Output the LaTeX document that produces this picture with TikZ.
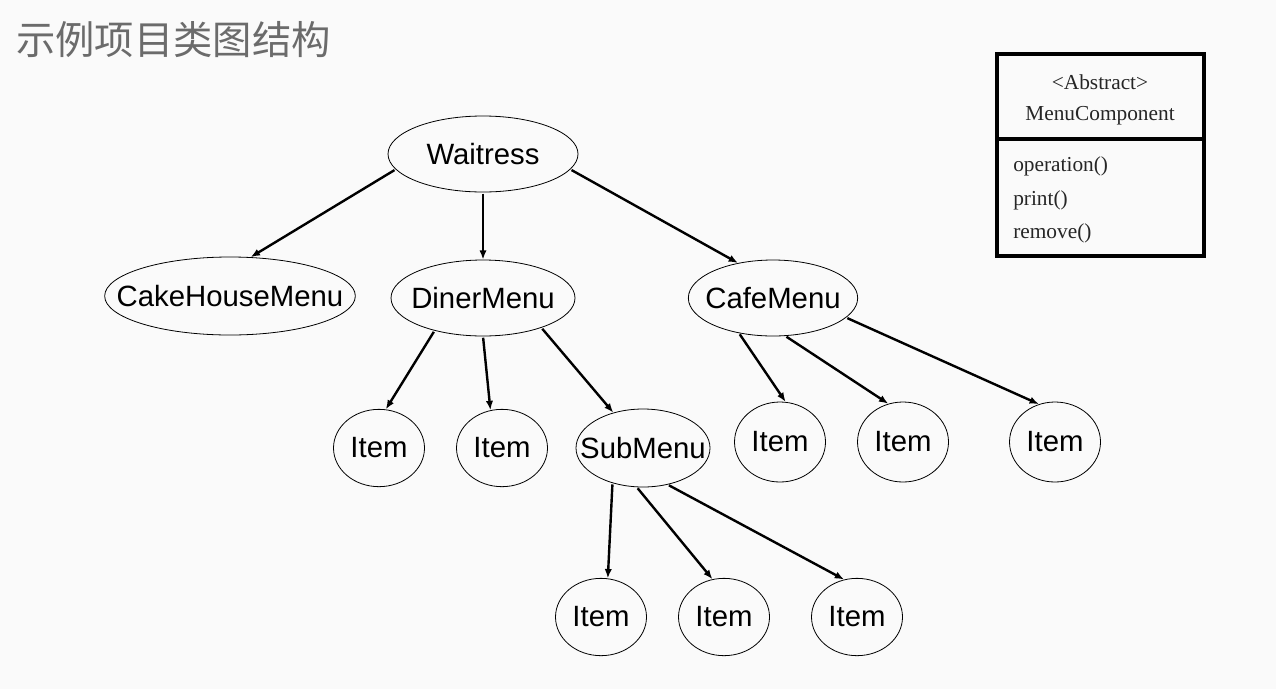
\documentclass[tikz,border=0pt]{standalone}
\usepackage{fontspec}
\setmainfont{Liberation Sans}
\newfontfamily\cjk{Noto Sans CJK SC}
\newfontfamily\tms{Liberation Serif}
\usetikzlibrary{shapes.geometric,arrows.meta}
\newcommand{\zw}[1]{\makebox[0pt][c]{#1}}
\begin{document}
\begin{tikzpicture}[x=0.75pt,y=-0.75pt,
  ell/.style={draw,ellipse,line width=0.6pt,inner sep=0pt,font=\fontsize{22}{26}\selectfont},
  itm/.style={ell,minimum width=68.25pt,minimum height=58pt},
  arr/.style={line width=1.8pt,-{Latex[length=7pt,width=5.5pt]},shorten <=1pt},
  cls/.style={font=\tms\fontsize{16}{19}\selectfont,text=black!85,inner sep=0pt}]
\path[fill=black!2,use as bounding box] (0,0) rectangle (1276,689);
% title
\node[font=\cjk\fontsize{29.5}{34}\selectfont,text=black!58,anchor=west,inner sep=0pt] (title) at (16,40) {示例项目类图结构};
% ellipses
\node[ell,minimum width=142.5pt,minimum height=57pt] (w) at (483,154) {\zw{Waitress}};
\node[ell,minimum width=188pt,minimum height=58.5pt] (chm) at (230,296) {\zw{CakeHouseMenu}};
\node[ell,minimum width=138pt,minimum height=57pt] (dm) at (483,298) {\zw{DinerMenu}};
\node[ell,minimum width=127pt,minimum height=57pt] (cm) at (773,298) {\zw{CafeMenu}};
\node[itm] (i1) at (379,448) {\zw{Item}};
\node[itm] (i2) at (502,448) {\zw{Item}};
\node[ell,minimum width=100.5pt,minimum height=58.5pt] (sm) at (643,448) {\zw{SubMenu}};
\node[itm,minimum height=60pt] (c1) at (780,442) {\zw{Item}};
\node[itm,minimum height=60pt] (c2) at (903,442) {\zw{Item}};
\node[itm,minimum height=60pt] (c3) at (1055,442) {\zw{Item}};
\node[itm] (s1) at (601,617) {\zw{Item}};
\node[itm] (s2) at (724,617) {\zw{Item}};
\node[itm] (s3) at (857,617) {\zw{Item}};
% connectors
\draw[arr] (w.190) -- (chm.62);
\draw[arr] (w.south) -- (dm.north);
\draw[arr] (w.350) -- (cm.135);
\draw[arr] (dm.214) -- (i1.80);
\draw[arr] (dm.south) -- (i2.107);
\draw[arr] (dm.333) -- (sm.130);
\draw[arr] (cm.226) -- (c1.82);
\draw[arr] (cm.288) -- (c2.111);
\draw[arr] (cm.345) -- (c3.113);
\draw[arr] (sm.229) -- (s1.80);
\draw[arr] (sm.261) -- (s2.107);
\draw[arr] (sm.304) -- (s3.109);
% class box
\node[draw,line width=2.4pt,minimum width=155.25pt,minimum height=151.5pt,inner sep=0pt] (box) at (1100.5,155) {};
\coordinate (dl) at (997,139);
\coordinate (dr) at (1204,139);
\draw[line width=2.4pt] (dl) -- (dr);
\node[cls] (abs) at (1100,82) {<Abstract>};
\node[cls] (mc) at (1100,116) {MenuComponent};
\node[cls,anchor=west] (op) at (1013,166) {operation()};
\node[cls,anchor=west] (pr) at (1013,200) {print()};
\node[cls,anchor=west] (rm) at (1013,233) {remove()};
\end{tikzpicture}
\end{document}
